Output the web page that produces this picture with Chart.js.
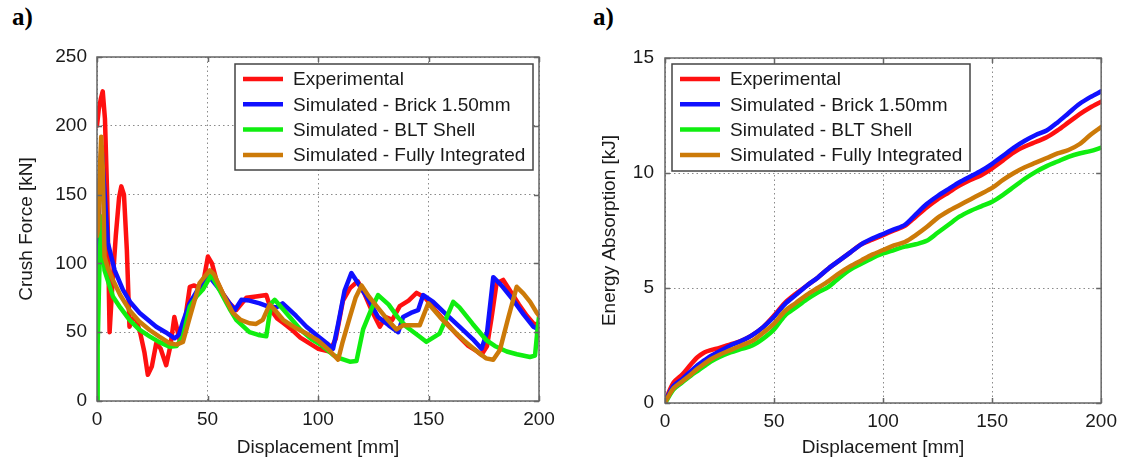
<!DOCTYPE html>
<html>
<head>
<meta charset="utf-8">
<script src="https://cdn.jsdelivr.net/npm/chart.js@4.4.1/dist/chart.umd.min.js"></script>
<style>
  html, body { margin: 0; padding: 0; background: #fff; }
  #page { position: relative; width: 1124px; height: 461px; overflow: hidden; background: #fff; }
  canvas { position: absolute; top: 0; }
  .tag { position: absolute; top: 4px; font: bold 25px "Liberation Serif", "Times New Roman", serif; line-height: 1; color: #000; }
</style>
</head>
<body>
<div id="page">
  <div class="tag" style="left:12px">a)</div>
  <div class="tag" style="left:593px">a)</div>
  <canvas id="force" width="562" height="461" style="left:0"></canvas>
  <canvas id="energy" width="562" height="461" style="left:562px"></canvas>
</div>
<script>
const seriesNames = ["Experimental", "Simulated - Brick 1.50mm", "Simulated - BLT Shell", "Simulated - Fully Integrated"]
const seriesColors = ["#ff1010", "#1010ff", "#10ee10", "#cc7a08"]

// crush force [kN] vs displacement [mm]
const expForceX = [0, 0.8, 1.8, 2.6, 3.6, 4.6, 5.7, 6.8, 8.5, 10, 11, 12.2, 13.5, 14.7, 16, 17.5, 19.5, 21.5, 23, 24.8, 26.8, 28.8, 31.3, 33.2, 35, 37.4, 39.5, 42, 44, 46.5, 48.5, 50.2, 52, 54, 57, 60, 63, 67.6, 72, 76.6, 78.8, 81.5, 84, 88, 92, 96, 100, 105.3, 108, 111.3, 114.5, 118, 121, 124.5, 128, 130.6, 133.6, 137, 141, 144.6, 148.5, 153, 158, 163, 168, 172, 174, 176.5, 178.5, 180.8, 183.8, 187, 191, 194.5, 197.4, 200]
const expForceY = [200, 212, 220, 225, 205, 150, 50, 80, 120, 148, 156, 150, 110, 54, 60, 60, 50, 35, 19, 25, 42, 38, 26, 40, 61, 44, 55, 83, 84, 82, 90, 105, 100, 88, 78, 71, 66, 75, 76, 77, 66, 60, 57, 52, 46, 42, 38, 36, 45, 73, 82, 87, 78, 65, 54, 61, 59, 69, 73, 78.6, 75, 66, 57, 48, 40, 36, 33.5, 40, 60, 85.6, 88, 80, 70, 62, 56.5, 55]

const brickForceX = [0, 1, 2, 3.5, 4.9, 8, 11.7, 15, 19.3, 23, 26.8, 31, 35.1, 37, 39, 41.9, 46, 50.2, 52, 55.5, 59, 62.3, 65.3, 69, 73.6, 77, 81.2, 84, 90, 94.8, 100, 104, 106.8, 109, 112, 115.1, 118, 122, 127.2, 132, 136.3, 138.5, 142, 145.3, 147.6, 152.1, 158, 164, 170, 174, 176.5, 179.3, 183, 188, 193, 197.4, 200]
const brickForceY = [60, 150, 185, 150, 115, 95, 81, 72, 64, 59, 54, 50, 45.6, 48, 58, 71, 82, 90, 88, 81, 73, 66, 73.5, 73, 71, 69, 68, 71, 62, 54, 47, 42, 38, 55, 80, 93, 86, 76, 61, 55, 50, 61, 64, 66, 77, 72, 63, 54, 45, 38, 50, 90, 84, 74, 63, 54, 52]

const bltForceX = [0, 0.3, 1.0, 1.9, 3.4, 7.2, 10.5, 14.7, 19, 23.8, 28, 32.8, 36, 38.9, 42, 45, 47.9, 51.7, 54, 57, 60, 63, 69, 73, 76.6, 77.8, 78.9, 80.4, 84, 87.2, 92, 97, 102, 106.8, 110, 114.4, 117.4, 120.4, 124.2, 127.2, 132, 136, 140, 145, 149, 155, 158, 161.2, 164, 170, 176.3, 180, 185.4, 190, 195.9, 198.2, 199.2, 200]
const bltForceY = [0, 40, 90, 134, 95, 76, 68, 59, 52, 47, 43, 39.5, 40, 47, 68.6, 76, 81, 91.6, 85, 76, 67, 59, 50, 48, 47, 60, 71, 73.5, 67, 61, 52, 45, 40, 33.5, 31, 28.6, 29, 52, 67, 77, 70, 61, 54, 48, 43, 49, 60, 72, 68, 56, 44, 40, 36, 34, 32, 33, 50, 61]

const fullForceX = [0, 0.5, 1.1, 1.9, 2.6, 3.4, 5, 7.2, 10.5, 14.7, 19, 23.8, 28, 32.8, 36, 38.9, 42, 46.4, 51, 53, 57, 61.5, 65, 69, 72, 75, 78.1, 80, 84.2, 90, 94.8, 100, 105, 109.1, 111, 114.4, 117, 119.7, 123, 126.5, 131, 135.5, 138.5, 142, 146, 149.9, 152, 155.2, 160, 166, 172, 176, 179.3, 182.3, 186, 189.9, 193, 196, 199, 200]
const fullForceY = [120, 125, 160, 192, 170, 105, 96, 88, 77, 66, 58, 51.6, 47, 42, 41, 43, 61, 85.6, 95, 92, 78, 64, 59, 56.5, 56, 59, 70, 67, 59, 53, 49, 44, 37, 30, 42, 61, 75, 84, 76, 69, 60, 52, 55, 55, 55, 71, 67, 61, 53, 44, 36, 31, 30, 37, 60, 83, 78, 72, 64, 62]

// energy absorption [kJ] vs displacement [mm]
const energyX = [0, 1, 4, 8, 12, 15, 18, 21, 25, 30, 35, 40, 45, 50, 55, 60, 65, 70, 75, 80, 85, 90, 95, 100, 105, 110, 115, 120, 125, 130, 135, 140, 145, 150, 155, 160, 165, 170, 175, 180, 185, 190, 195, 200]
const expEnergy = [0, 0.3, 0.9, 1.25, 1.7, 2.0, 2.2, 2.3, 2.4, 2.55, 2.7, 2.95, 3.3, 3.8, 4.35, 4.75, 5.1, 5.45, 5.85, 6.2, 6.55, 6.9, 7.1, 7.3, 7.5, 7.7, 8.1, 8.5, 8.85, 9.15, 9.45, 9.7, 9.9, 10.2, 10.55, 10.9, 11.15, 11.35, 11.55, 11.85, 12.2, 12.55, 12.85, 13.1]
const brickEnergy = [0, 0.25, 0.75, 1.05, 1.4, 1.65, 1.85, 2.05, 2.25, 2.5, 2.7, 2.95, 3.3, 3.75, 4.3, 4.7, 5.1, 5.45, 5.85, 6.2, 6.55, 6.9, 7.15, 7.35, 7.55, 7.75, 8.2, 8.65, 9.0, 9.3, 9.6, 9.85, 10.1, 10.4, 10.75, 11.1, 11.4, 11.65, 11.85, 12.2, 12.6, 13.0, 13.3, 13.55]
const bltEnergy = [0, 0.15, 0.6, 0.9, 1.2, 1.4, 1.6, 1.8, 2.0, 2.2, 2.35, 2.5, 2.8, 3.2, 3.8, 4.15, 4.5, 4.8, 5.05, 5.45, 5.8, 6.05, 6.3, 6.5, 6.65, 6.8, 6.9, 7.05, 7.4, 7.75, 8.1, 8.35, 8.55, 8.75, 9.05, 9.4, 9.75, 10.05, 10.3, 10.5, 10.7, 10.85, 10.95, 11.1]
const fullEnergy = [0, 0.2, 0.65, 0.95, 1.25, 1.5, 1.7, 1.9, 2.1, 2.3, 2.5, 2.7, 3.05, 3.45, 4.0, 4.35, 4.7, 5.0, 5.3, 5.65, 5.95, 6.2, 6.45, 6.65, 6.85, 7.0, 7.3, 7.65, 8.05, 8.35, 8.6, 8.85, 9.1, 9.35, 9.7, 10.0, 10.25, 10.45, 10.65, 10.85, 11.0, 11.25, 11.65, 12.0]

const xTicks = [0, 50, 100, 150, 200]
const forceTicks = [0, 50, 100, 150, 200, 250]
const energyTicks = [0, 5, 10, 15]

const FONT = "'Liberation Sans', Arial, sans-serif"
const TEXT = "#1a1a1a"

const zip = (xs, ys) => xs.map((x, i) => ({ x, y: ys[i] }))

// MATLAB-style box, inner ticks and legend drawn inside the axes
const framePlugin = {
  id: "frame",
  afterDatasetsDraw(chart, args, opts) {
    const { ctx, chartArea: a, scales } = chart
    ctx.save()
    ctx.strokeStyle = "#666"
    ctx.lineWidth = 1.5
    ctx.beginPath()
    scales.x.ticks.forEach((t) => {
      const px = Math.round(scales.x.getPixelForValue(t.value)) + 0.5
      ctx.moveTo(px, a.bottom); ctx.lineTo(px, a.bottom - 5)
      ctx.moveTo(px, a.top); ctx.lineTo(px, a.top + 5)
    })
    scales.y.ticks.forEach((t) => {
      const py = Math.round(scales.y.getPixelForValue(t.value)) + 0.5
      ctx.moveTo(a.left, py); ctx.lineTo(a.left + 5, py)
      ctx.moveTo(a.right, py); ctx.lineTo(a.right - 5, py)
    })
    ctx.stroke()
    ctx.strokeRect(a.left, a.top, a.right - a.left, a.bottom - a.top)

    // legend
    const bx = a.left + opts.dx, by = a.top + opts.dy
    ctx.fillStyle = "#fff"
    ctx.fillRect(bx, by, opts.w, opts.h)
    ctx.strokeStyle = "#444"
    ctx.lineWidth = 1.5
    ctx.strokeRect(bx, by, opts.w, opts.h)
    ctx.font = "19px " + FONT
    ctx.textBaseline = "middle"
    chart.data.datasets.forEach((ds, i) => {
      const y = by + 15 + i * 25.3
      ctx.strokeStyle = ds.borderColor
      ctx.lineWidth = 4.5
      ctx.beginPath()
      ctx.moveTo(bx + 8, y); ctx.lineTo(bx + 48, y)
      ctx.stroke()
      ctx.fillStyle = TEXT
      ctx.fillText(ds.label, bx + 58, y + 1)
    })
    ctx.restore()
  }
}

function axis(min, max, ticks, title, pad, fit) {
  return {
    type: "linear",
    min, max,
    afterBuildTicks: (s) => { s.ticks = ticks.map((v) => ({ value: v })) },
    afterFit: fit,
    grid: { color: "#8a8a8a", lineWidth: 1, drawTicks: false },
    border: { display: false, dash: [1.5, 3] },
    ticks: { color: TEXT, font: { family: FONT, size: 19 }, padding: pad.tick },
    title: { display: true, text: title, color: TEXT, font: { family: FONT, size: 19 }, padding: pad.title }
  }
}

function makeChart(id, datasets, yMin, yMax, yTicks, yTitle, layout) {
  return new Chart(document.getElementById(id), {
    type: "line",
    data: {
      datasets: datasets.map((pts, i) => ({
        label: seriesNames[i],
        data: pts,
        borderColor: seriesColors[i],
        borderWidth: 4.5,
        pointRadius: 0,
        tension: layout.tension,
        borderJoinStyle: "round",
        borderCapStyle: "round",
        order: 4 - i
      }))
    },
    options: {
      responsive: false,
      animation: false,
      layout: { padding: { left: 0, top: layout.top, right: layout.right, bottom: 0 } },
      plugins: {
        legend: { display: false },
        tooltip: { enabled: false },
        frame: layout.legend
      },
      scales: {
        x: axis(0, 200, xTicks, "Displacement [mm]", { tick: 7, title: { top: 0, bottom: 2 } },
          (s) => { s.height = layout.xHeight }),
        y: axis(yMin, yMax, yTicks, yTitle, { tick: layout.yTickPad, title: { top: layout.yTitlePad, bottom: 0 } },
          (s) => { s.width = layout.yWidth })
      }
    },
    plugins: [framePlugin]
  })
}

makeChart("force",
  [zip(expForceX, expForceY), zip(brickForceX, brickForceY), zip(bltForceX, bltForceY), zip(fullForceX, fullForceY)],
  0, 250, forceTicks, "Crush Force [kN]",
  { top: 57, right: 23, xHeight: 60, yWidth: 97, yTickPad: 10, yTitlePad: 15, tension: 0,
    legend: { dx: 138, dy: 7, w: 298, h: 106 } })

makeChart("energy",
  [zip(energyX, expEnergy), zip(energyX, brickEnergy), zip(energyX, bltEnergy), zip(energyX, fullEnergy)],
  0, 15, energyTicks, "Energy Absorption [kJ]",
  { top: 58, right: 18, xHeight: 58, yWidth: 103, yTickPad: 11, yTitlePad: 36, tension: 0.3,
    legend: { dx: 7, dy: 6, w: 298, h: 107 } })
</script>
</body>
</html>
